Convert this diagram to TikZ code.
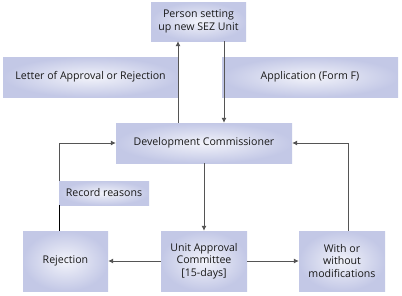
\documentclass[tikz,border=0pt]{standalone}
\usepackage{fontspec}
\setmainfont{Open Sans}
\usetikzlibrary{arrows.meta}
\definecolor{boxout}{HTML}{C3C8E6}
\definecolor{boxin}{HTML}{F2F3FA}
\definecolor{linec}{HTML}{555555}
\begin{document}
\begin{tikzpicture}[x=1pt,y=-1pt,
  box/.style={shading=radial,inner color=boxin,outer color=boxout,draw=none,
    inner sep=0pt,align=center,font=\fontsize{10.6}{12.4}\selectfont,text=black!90},
  conn/.style={draw=linec,line width=0.8pt,-{Latex[length=5pt,width=5pt]}},
  plain/.style={draw=black,line width=0.7pt}]
\useasboundingbox[fill=white] (0,0) rectangle (402,295);
\node[box,minimum width=95pt,minimum height=39pt] (top) at (198.5,21.5) {Person setting\\up new SEZ Unit};
\node[box,minimum width=175pt,minimum height=40pt] (letter) at (90.5,77) {Letter of Approval or Rejection};
\node[box,minimum width=176pt,minimum height=40pt] (app) at (310,77) {Application (Form F)};
\node[box,minimum width=176pt,minimum height=40pt] (dc) at (204,143) {Development Commissioner};
\node[box,minimum width=90pt,minimum height=24pt] (rec) at (104,193) {Record reasons};
\node[box,minimum width=85pt,minimum height=60pt] (rej) at (65.5,261) {Rejection};
\node[box,minimum width=86pt,minimum height=60pt] (uac) at (204,261) {Unit Approval\\Committee\\{[15-days]}};
\node[box,minimum width=86pt,minimum height=60pt] (with) at (342,261) {With or\\without\\modifications};
\draw[conn] ([xshift=-26pt]dc.north) -- ([xshift=-20.5pt]top.south);
\draw[conn] ([xshift=25.5pt]top.south) -- ([xshift=20pt]dc.north);
\draw[conn] (dc.south) -- (uac.north);
\draw[conn] (uac.west) -- (rej.east);
\draw[conn] (uac.east) -- (with.west);
\draw[plain] ([xshift=-6.5pt]rej.north) -- ([xshift=-45pt]rec.south);
\draw[conn] ([xshift=-45pt]rec.north) |- (dc.west);
\draw[conn] ([xshift=6pt]with.north) |- (dc.east);
\end{tikzpicture}
\end{document}
